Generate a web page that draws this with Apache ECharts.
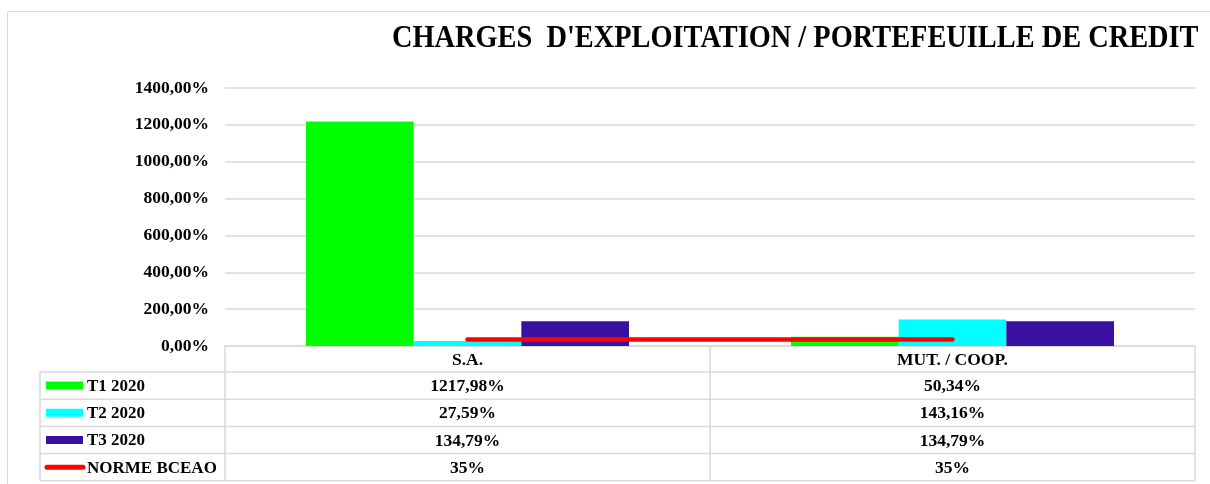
<!DOCTYPE html>
<html>
<head>
<meta charset="utf-8">
<script src="https://cdn.jsdelivr.net/npm/echarts@6/dist/echarts.min.js"></script>
<style>
  html, body { margin: 0; padding: 0; background: #fff; }
  #chart { width: 1210px; height: 484px; }
</style>
</head>
<body>
<div id="chart"></div>
<script>
// data
const categories = ['S.A.', 'MUT. / COOP.'];
const seriesNames = ['T1 2020', 'T2 2020', 'T3 2020', 'NORME BCEAO'];
const t1 = [1217.98, 50.34];
const t2 = [27.59, 143.16];
const t3 = [134.79, 134.79];
const norme = [35, 35];
const yTicks = [0, 200, 400, 600, 800, 1000, 1200, 1400];

const colors = ['#00ff00', '#00ffff', '#3a10a2', '#ff0000'];
const font = '"Liberation Serif", "Times New Roman", serif';
const gridColor = '#d9d9d9';

// layout of plot + data table
const plotLeft = 225, plotRight = 1195, plotTop = 88, plotBottom = 346;
const tableLeft = 40, rowH = 27.2;
const headerBottom = plotBottom + 26;
const colW = (plotRight - plotLeft) / categories.length;

const fmt = (v, i) => i === 3 ? v + '%' : v.toFixed(2).replace('.', ',') + '%';
const rows = [t1, t2, t3, norme];

const graphics = [];
// outer frame
graphics.push({ type: 'rect', shape: { x: 7.5, y: 11.5, width: 1220, height: 500 },
  style: { fill: 'none', stroke: gridColor, lineWidth: 1 }, silent: true });
// title, condensed like the original
graphics.push({ type: 'text', x: 392, y: 39, scaleX: 0.915,
  style: { text: "CHARGES  D'EXPLOITATION / PORTEFEUILLE DE CREDIT", font: 'bold 31px ' + font,
    fill: '#000', textAlign: 'left', textVerticalAlign: 'middle' } });

// table lines
const tableBottom = headerBottom + rowH * rows.length;
const hLine = (x1, x2, y) => graphics.push({ type: 'line', silent: true,
  shape: { x1: x1, y1: y, x2: x2, y2: y }, style: { stroke: gridColor, lineWidth: 1.5 } });
const vLine = (x, y1, y2) => graphics.push({ type: 'line', silent: true,
  shape: { x1: x, y1: y1, x2: x, y2: y2 }, style: { stroke: gridColor, lineWidth: 1.5 } });
for (let r = 0; r <= rows.length; r++) hLine(tableLeft, plotRight, headerBottom + r * rowH);
vLine(tableLeft, headerBottom, tableBottom);
for (let c = 0; c <= categories.length; c++) vLine(plotLeft + c * colW, plotBottom, tableBottom);

// table rows: legend key + name + values
rows.forEach((vals, r) => {
  const cy = headerBottom + rowH * (r + 0.5);
  if (r < 3) {
    graphics.push({ type: 'rect', shape: { x: 46, y: cy - 4, width: 37, height: 8 },
      style: { fill: colors[r] } });
  } else {
    graphics.push({ type: 'line', shape: { x1: 47, y1: cy, x2: 83, y2: cy },
      style: { stroke: colors[r], lineWidth: 5, lineCap: 'round' } });
  }
  graphics.push({ type: 'text', x: 87, y: cy + 1,
    style: { text: seriesNames[r], font: 'bold 17px ' + font, fill: '#000',
      textAlign: 'left', textVerticalAlign: 'middle' } });
  vals.forEach((v, c) => {
    graphics.push({ type: 'text', x: plotLeft + colW * (c + 0.5), y: cy + 1,
      style: { text: fmt(v, r), font: 'bold 17.5px ' + font, fill: '#000',
        textAlign: 'center', textVerticalAlign: 'middle' } });
  });
});

const chart = echarts.init(document.getElementById('chart'));
chart.setOption({
  animation: false,
  backgroundColor: '#fff',
  grid: { left: plotLeft, right: 1210 - plotRight, top: plotTop, bottom: 484 - plotBottom },
  xAxis: {
    type: 'category',
    data: categories,
    axisLine: { lineStyle: { color: gridColor, width: 1.5 } },
    axisTick: { show: false },
    axisLabel: { color: '#000', fontFamily: font, fontWeight: 'bold', fontSize: 17.5,
      verticalAlign: 'middle', margin: 14 }
  },
  yAxis: {
    type: 'value',
    min: yTicks[0], max: yTicks[yTicks.length - 1], interval: yTicks[1] - yTicks[0],
    axisLine: { show: false },
    axisTick: { show: false },
    splitLine: { lineStyle: { color: gridColor, width: 1.5 } },
    axisLabel: { color: '#000', fontFamily: font, fontWeight: 'bold', fontSize: 17.5, margin: 16,
      formatter: v => v + ',00%' }
  },
  series: [
    { name: seriesNames[0], type: 'bar', data: t1, itemStyle: { color: colors[0] },
      barGap: '0%', barCategoryGap: '33.4%' },
    { name: seriesNames[1], type: 'bar', data: t2, itemStyle: { color: colors[1] } },
    { name: seriesNames[2], type: 'bar', data: t3, itemStyle: { color: colors[2] } },
    { name: seriesNames[3], type: 'line', data: norme, symbol: 'none', z: 5,
      lineStyle: { color: colors[3], width: 4.5, cap: 'round' } }
  ],
  graphic: graphics
});
</script>
</body>
</html>
